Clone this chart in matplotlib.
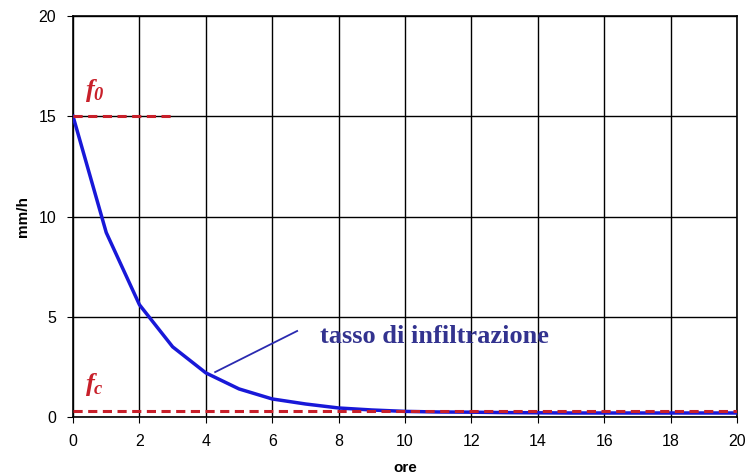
import matplotlib
matplotlib.use("Agg")
import matplotlib.pyplot as plt

# data
ore = [0, 1, 2, 3, 4, 5, 6, 7, 8, 9, 10, 11, 12, 13, 14, 15, 16, 17, 18, 19, 20]
tasso = [15.0, 9.2, 5.6, 3.5, 2.2, 1.4, 0.9, 0.65, 0.45, 0.35, 0.28, 0.25, 0.24, 0.22, 0.21, 0.2, 0.2, 0.2, 0.2, 0.2, 0.2]
f0_x = [0, 3]
f0_y = [15, 15]
fc_x = [0, 20]
fc_y = [0.3, 0.3]
leader_x = [4.28, 6.75]
leader_y = [2.24, 4.29]
xticks = [0, 2, 4, 6, 8, 10, 12, 14, 16, 18, 20]
yticks = [0, 5, 10, 15, 20]

plt.rcParams['font.family'] = ['Liberation Sans', 'DejaVu Sans']
plt.rcParams['mathtext.fontset'] = 'custom'
plt.rcParams['mathtext.it'] = 'Liberation Serif:italic:bold'
plt.rcParams['mathtext.rm'] = 'Liberation Serif:italic:bold'
plt.rcParams['mathtext.bf'] = 'Liberation Serif:italic:bold'

fig = plt.figure(figsize=(7.46, 4.75), dpi=100)
ax = fig.add_axes([0.0979, 0.1221, 0.8901, 0.8442])

ax.plot(ore, tasso, color='#1818d8', lw=2.5, zorder=3)
ax.plot(f0_x, f0_y, color='#c8202a', lw=2.2, ls=(0, (3, 1.8)), zorder=4)
ax.plot(fc_x, fc_y, color='#c8202a', lw=2.2, ls=(0, (3, 1.8)), zorder=4)
ax.plot(leader_x, leader_y, color='#2a2ab0', lw=1.3, zorder=3)

ax.set_xlim(0, 20)
ax.set_ylim(0, 20)
ax.set_xticks(xticks)
ax.set_yticks(yticks)
ax.grid(True, color='black', lw=1.0)
ax.set_axisbelow(True)
for s in ax.spines.values():
    s.set_color('black')
    s.set_linewidth(1.2)
ax.tick_params(labelsize=11.5, length=4, color='black', direction='out', pad=8)

ax.set_xlabel('ore', fontsize=11, fontweight='bold', labelpad=9)
ax.set_ylabel('mm/h', fontsize=11, fontweight='bold', labelpad=6)

ax.text(0.35, 16.3, r'$f_0$', color='#c8202a', fontsize=19, va='center')
ax.text(0.35, 1.6, r'$f_c$', color='#c8202a', fontsize=19, va='center')
ax.text(7.44, 4.04, 'tasso di infiltrazione', color='#33338f', fontsize=19,
        family='Liberation Serif', fontweight='bold', va='center', ha='left')

fig.savefig('out.png', dpi=100)
